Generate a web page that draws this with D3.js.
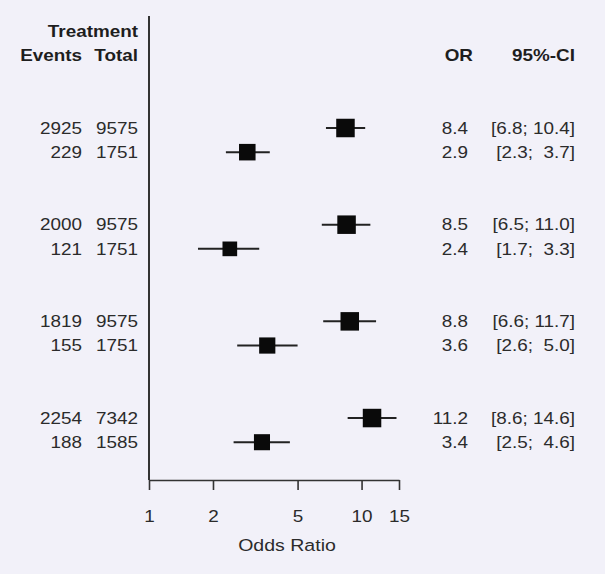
<!DOCTYPE html>
<html><head><meta charset="utf-8">
<script src="https://cdn.jsdelivr.net/npm/d3@7"></script>
<style>
body{margin:0;background:#f2f1f9}
svg{display:block}
text{font-family:"Liberation Sans",Arial,Helvetica,sans-serif;fill:#2b2b2b;white-space:pre}
</style>
</head><body>
<svg id="chart" width="605" height="574"></svg>
<script>
// ---- data ----
const events   = [2925, 229, 2000, 121, 1819, 155, 2254, 188];
const totals   = [9575, 1751, 9575, 1751, 9575, 1751, 7342, 1585];
const orValues = [8.4, 2.9, 8.5, 2.4, 8.8, 3.6, 11.2, 3.4];
const ciLower  = [6.8, 2.3, 6.5, 1.7, 6.6, 2.6, 8.6, 2.5];
const ciUpper  = [10.4, 3.7, 11.0, 3.3, 11.7, 5.0, 14.6, 4.6];
const groups   = [0, 0, 1, 1, 2, 2, 3, 3];
const tickValues = [1, 2, 5, 10, 15];
const xDomain  = [1, 15];
const headers  = {treatment: "Treatment", events: "Events", total: "Total", or: "OR", ci: "95%-CI", xlab: "Odds Ratio"};

// ---- layout ----
const svg = d3.select("#chart");
const W = 605, H = 574;
svg.append("rect").attr("width", W).attr("height", H).attr("fill", "#f2f1f9");

const x = d3.scaleLog().domain(xDomain).range([149, 399]);
const rowY = d3.scaleLinear().domain([0, 1]).range([128, 152.17]);
const axisY = 480;
const SX = 1.18;      // horizontal stretch of text
const FS = 16;

const colEvents = 82, colTotal = 138, colOR = 468, colCI = 575;

function txt(xp, yc, s, anchor, opt = {}) {
  const fs = opt.fs || FS;
  return svg.append("text")
    .attr("transform", `translate(${xp},${yc + fs * 0.36}) scale(${opt.sx || SX},1)`)
    .attr("text-anchor", anchor)
    .attr("font-size", fs)
    .attr("font-weight", opt.bold ? "bold" : "normal")
    .style("fill", opt.bold ? "#1e1e1e" : "#2b2b2b")
    .text(s);
}

// row index per study
const rows = events.map((e, i) => ({
  i, e, t: totals[i], or: orValues[i], lo: ciLower[i], hi: ciUpper[i],
  g: groups[i], k: groups[i] * 4 + (i % 2)
}));

// square size ~ precision within group
rows.forEach(r => { r.prec = 3.92 / (Math.log(r.hi) - Math.log(r.lo)); });
const maxPrec = d3.rollup(rows, v => d3.max(v, d => d.prec), d => d.g);
const side = d3.scaleLinear().domain([0, 1]).range([0, 18.5]);

// headers
txt(colTotal, rowY(-4), headers.treatment, "end", {bold: true});
txt(colEvents, rowY(-3), headers.events, "end", {bold: true});
txt(colTotal, rowY(-3), headers.total, "end", {bold: true});
txt(473, rowY(-3), headers.or, "end", {bold: true});
txt(colCI, rowY(-3), headers.ci, "end", {bold: true});

// reference line at OR = 1
svg.append("line")
  .attr("x1", x(1)).attr("x2", x(1))
  .attr("y1", 16).attr("y2", axisY)
  .attr("stroke", "#333").attr("stroke-width", 2);

// axis
const axis = d3.axisBottom(x).tickValues(tickValues).tickFormat(d3.format("d"))
  .tickSize(10).tickSizeOuter(0).tickPadding(20);
const ag = svg.append("g").attr("transform", `translate(0,${axisY})`).call(axis);
ag.select(".domain").attr("stroke", "#333").attr("stroke-width", 1.6);
ag.selectAll(".tick line").attr("stroke", "#333").attr("stroke-width", 1.6);
ag.selectAll(".tick text")
  .attr("font-size", 16)
  .attr("font-family", '"Liberation Sans",Arial,sans-serif')
  .style("fill", "#2b2b2b")
  .attr("transform", function () { return null; });
ag.selectAll(".tick text").each(function () {
  const t = d3.select(this);
  const yv = +t.attr("y");
  t.attr("y", null).attr("dy", null)
   .attr("transform", `translate(0,${yv + 11.5}) scale(${SX},1)`);
});

// x label
txt(287, 545, headers.xlab, "middle", {fs: 17, sx: 1.15});

// whiskers
svg.append("g").selectAll("line").data(rows).join("line")
  .attr("x1", d => x(d.lo)).attr("x2", d => x(d.hi))
  .attr("y1", d => rowY(d.k)).attr("y2", d => rowY(d.k))
  .attr("stroke", "#222").attr("stroke-width", 2);

// squares
svg.append("g").selectAll("rect").data(rows).join("rect")
  .attr("x", d => x(d.or) - side(d.prec / maxPrec.get(d.g)) / 2)
  .attr("y", d => rowY(d.k) - side(d.prec / maxPrec.get(d.g)) / 2)
  .attr("width", d => side(d.prec / maxPrec.get(d.g)))
  .attr("height", d => side(d.prec / maxPrec.get(d.g)))
  .attr("fill", "#0a0a0a");

// table text
const f1 = d3.format(".1f");
const pad = v => (v < 10 ? " " : "") + f1(v);
rows.forEach(r => {
  const yc = rowY(r.k);
  txt(colEvents, yc, String(r.e), "end");
  txt(colTotal, yc, String(r.t), "end");
  txt(colOR, yc, f1(r.or), "end");
  txt(colCI, yc, `[${f1(r.lo)}; ${pad(r.hi)}]`, "end");
});
</script>
</body></html>
